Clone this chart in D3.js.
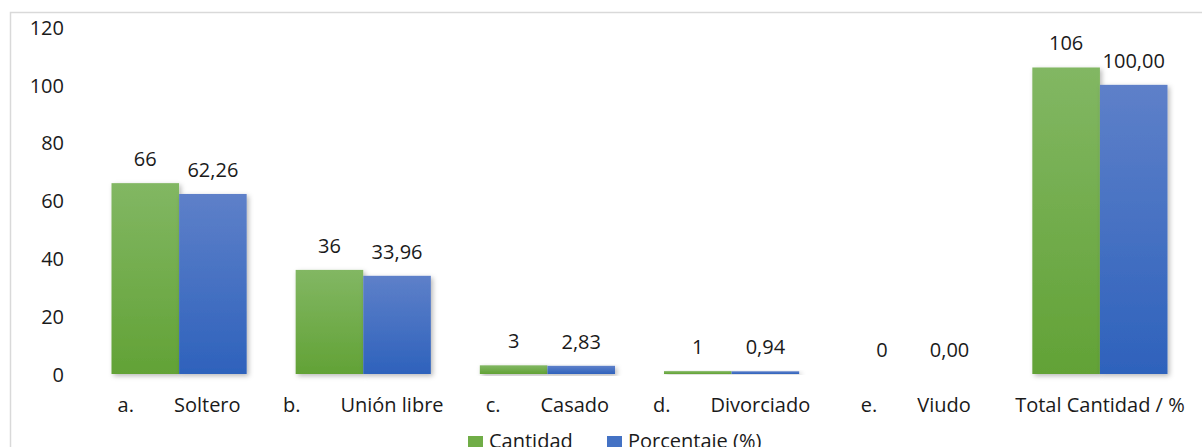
<!DOCTYPE html>
<html>
<head>
<meta charset="utf-8">
<script src="https://cdn.jsdelivr.net/npm/d3@7/dist/d3.min.js"></script>
<style>
  html, body { margin: 0; padding: 0; background: #fff; }
  svg { display: block; font-family: "Open Sans", sans-serif; }
</style>
</head>
<body>
<svg id="chart" width="1202" height="447"></svg>
<script>
// Estado civil: frecuencia y porcentaje
const prefixes = ["a.", "b.", "c.", "d.", "e.", ""];
const categories = ["Soltero", "Unión libre", "Casado", "Divorciado", "Viudo", "Total Cantidad / %"];
const cantidad = [66, 36, 3, 1, 0, 106];
const porcentaje = [62.26, 33.96, 2.83, 0.94, 0.00, 100.00];
const seriesNames = ["Cantidad", "Porcentaje (%)"];
const yTicks = [0, 20, 40, 60, 80, 100, 120];

const svg = d3.select("#chart");
const W = 1202, H = 447;
const margin = { left: 87, right: 10, top: 27, bottom: 73 };

// chart frame
svg.append("rect")
  .attr("x", 10.5).attr("y", 12.5)
  .attr("width", W + 20).attr("height", H + 20)
  .attr("fill", "none").attr("stroke", "#d9d9d9").attr("stroke-width", 1.5);

const defs = svg.append("defs");
const grads = [
  { id: "gGreen", top: "#82b763", bottom: "#62a236" },
  { id: "gBlue", top: "#5e80c9", bottom: "#2e62bc" }
];
grads.forEach(g => {
  const lg = defs.append("linearGradient").attr("id", g.id)
    .attr("x1", 0).attr("y1", 0).attr("x2", 0).attr("y2", 1);
  lg.append("stop").attr("offset", "0%").attr("stop-color", g.top);
  lg.append("stop").attr("offset", "100%").attr("stop-color", g.bottom);
});
const shadow = defs.append("filter").attr("id", "shadow")
  .attr("x", "-20%").attr("y", "-20%").attr("width", "140%").attr("height", "140%");
shadow.append("feDropShadow")
  .attr("dx", 2).attr("dy", 2).attr("stdDeviation", 2.5)
  .attr("flood-color", "#000").attr("flood-opacity", 0.28);

const x0 = d3.scaleBand()
  .domain(categories)
  .range([margin.left, 1192])
  .paddingInner(0.266).paddingOuter(0.133);
const x1 = d3.scaleBand()
  .domain(seriesNames)
  .range([0, x0.bandwidth()]);
const y = d3.scaleLinear().domain([0, 120]).range([374, 27]);

// y axis labels
const yAxis = d3.axisLeft(y).tickValues(yTicks).tickSize(0).tickPadding(0);
const gy = svg.append("g").attr("transform", "translate(64,0)").call(yAxis);
gy.select(".domain").remove();
gy.selectAll("text")
  .attr("font-family", "Open Sans").attr("font-size", 20)
  .attr("fill", "#1a1a1a").attr("dy", "0.36em");

// bars
const fills = ["url(#gGreen)", "url(#gBlue)"];
const series = [cantidad, porcentaje];
const groups = svg.append("g");
categories.forEach((c, i) => {
  const g = groups.append("g").attr("transform", `translate(${x0(c)},0)`);
  series.forEach((vals, s) => {
    const v = vals[i];
    if (v > 0) {
      g.append("rect")
        .attr("x", x1(seriesNames[s]))
        .attr("y", y(v))
        .attr("width", x1.bandwidth())
        .attr("height", y(0) - y(v))
        .attr("fill", fills[s])
        .attr("filter", "url(#shadow)");
    }
  });
});

// x axis baseline
const gx = svg.append("g").attr("transform", `translate(0,${y(0)})`)
  .call(d3.axisBottom(x0).tickSize(0).tickFormat(""));
gx.select(".domain").attr("stroke", "#d9d9d9").attr("stroke-width", 2)
  .attr("filter", "url(#shadow)");
gx.selectAll(".tick text").remove();

// data labels
const fmtPct = v => v.toFixed(2).replace(".", ",");
categories.forEach((c, i) => {
  series.forEach((vals, s) => {
    const v = vals[i];
    svg.append("text")
      .attr("x", x0(c) + x1(seriesNames[s]) + x1.bandwidth() / 2)
      .attr("y", y(v) - 17)
      .attr("text-anchor", "middle")
      .attr("font-size", 20).attr("fill", "#1a1a1a")
      .text(s === 0 ? String(v) : fmtPct(v));
  });
});

// category labels
categories.forEach((c, i) => {
  const t = svg.append("text")
    .attr("x", x0(c) + x0.bandwidth() / 2)
    .attr("y", 412)
    .attr("text-anchor", "middle")
    .attr("font-size", 20).attr("fill", "#1a1a1a");
  if (prefixes[i]) {
    t.append("tspan").text(prefixes[i]);
    t.append("tspan").attr("dx", 40).text(c);
  } else {
    t.append("tspan").text(c);
  }
});

// legend
const legendColors = ["#70ad47", "#4472c4"];
const legendX = [468, 607];
seriesNames.forEach((n, i) => {
  svg.append("rect")
    .attr("x", legendX[i]).attr("y", 436)
    .attr("width", 15).attr("height", 15)
    .attr("fill", legendColors[i]);
  svg.append("text")
    .attr("x", legendX[i] + 21).attr("y", 447.5)
    .attr("font-size", 20).attr("fill", "#1a1a1a")
    .text(n);
});
</script>
</body>
</html>
